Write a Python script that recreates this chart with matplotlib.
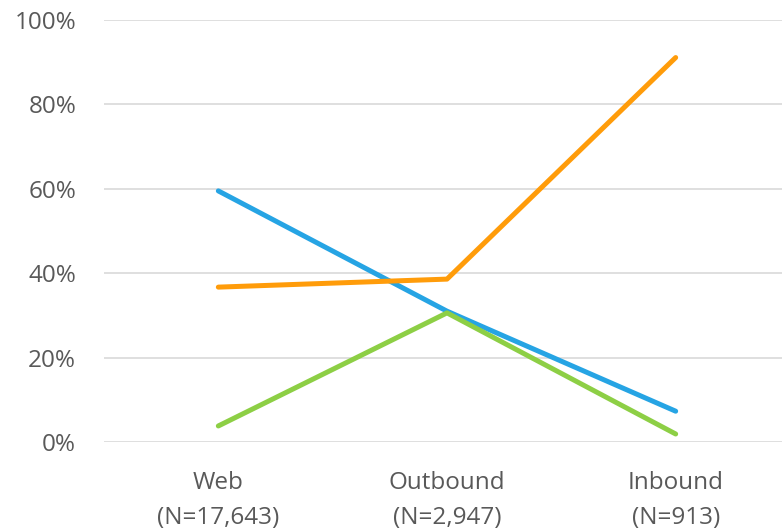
import matplotlib.pyplot as plt
from matplotlib.ticker import PercentFormatter

plt.rcParams['font.family'] = ['Open Sans', 'DejaVu Sans']

channels = ['Web\n(N=17,643)', 'Outbound\n(N=2,947)', 'Inbound\n(N=913)']
blue_vals = [59.5, 31.0, 7.3]
orange_vals = [36.7, 38.6, 91.1]
green_vals = [3.8, 30.6, 1.9]

series = [
    (blue_vals, '#26A4E4'),
    (orange_vals, '#FF9C0A'),
    (green_vals, '#8DCF45'),
]

fig = plt.figure(figsize=(7.82, 5.32), dpi=100)
# axes run a little past the right edge so the category spacing stays even
ax = fig.add_axes([104 / 782, 90 / 532, 686 / 782, 422 / 532])

x = range(len(channels))
for vals, color in series:
    ax.plot(x, vals, color=color, lw=3.6, solid_capstyle='round', zorder=3)

ax.set_xlim(-0.5, len(channels) - 0.5)
ax.set_ylim(0, 100)
ax.set_yticks(range(0, 101, 20))
ax.yaxis.set_major_formatter(PercentFormatter(decimals=0))
ax.set_xticks(list(x))
ax.set_xticklabels(channels, linespacing=1.62, fontsize=17.5)

ax.grid(axis='y', color='#D9D9D9', lw=1.2)
ax.set_axisbelow(True)
for s in ax.spines.values():
    s.set_visible(False)
ax.tick_params(axis='both', length=0, colors='#595959')
ax.tick_params(axis='y', pad=20, labelsize=17.5)
ax.tick_params(axis='x', pad=21)

fig.savefig('out.png', dpi=100)
